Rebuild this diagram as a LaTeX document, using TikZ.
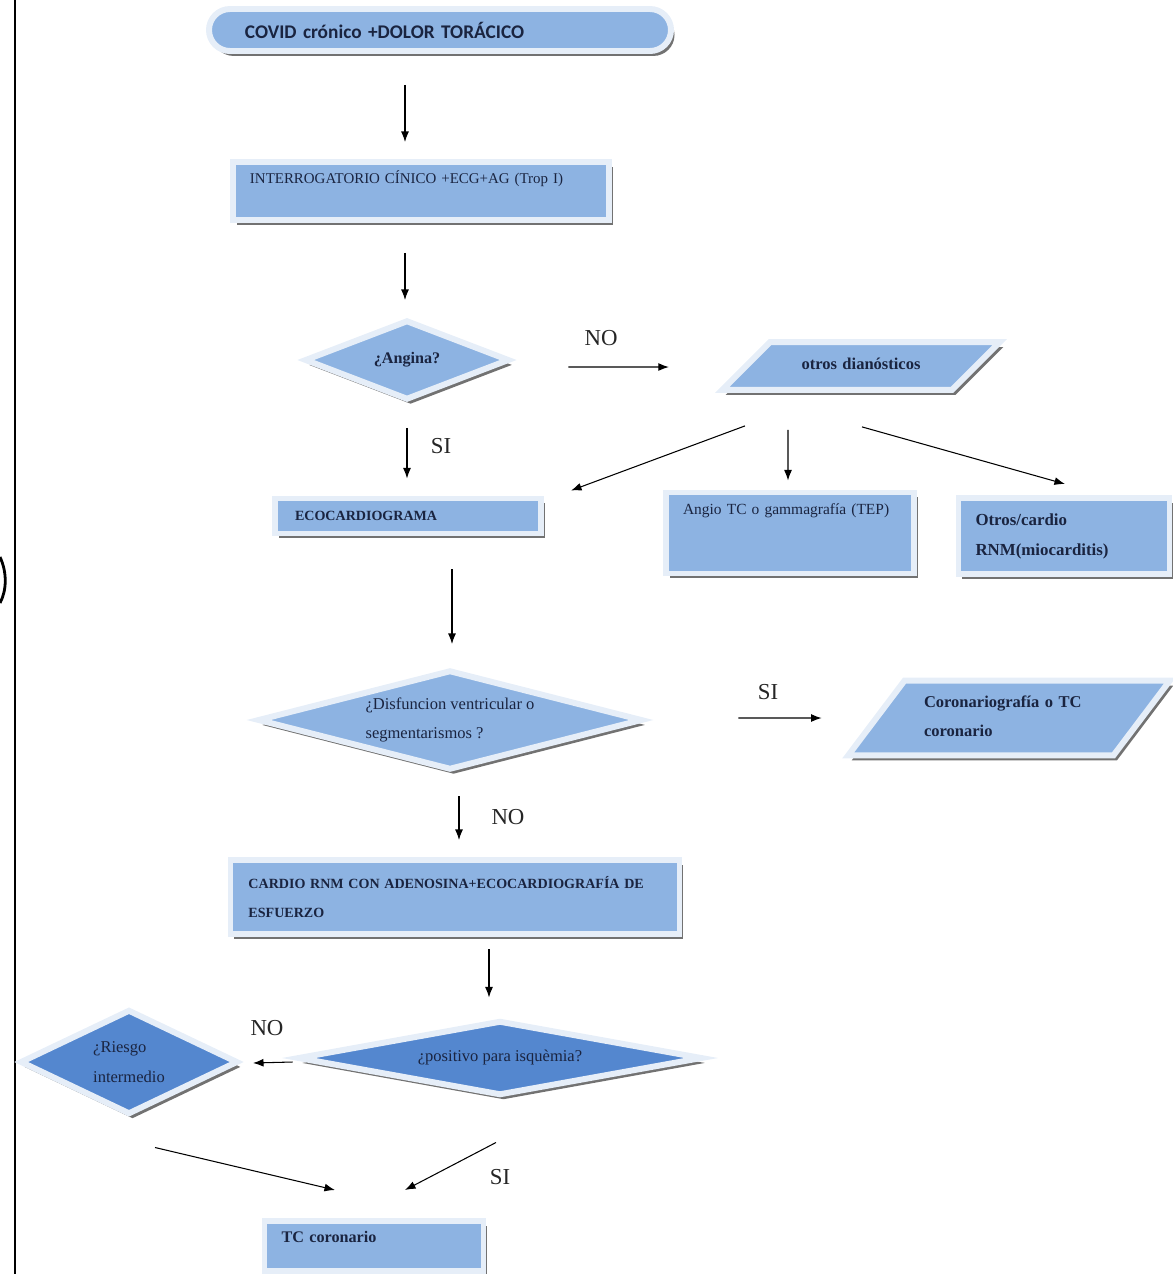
\documentclass[tikz,border=0pt]{standalone}
\usepackage{fontspec}
\setmainfont{Liberation Serif}
\newfontfamily\calibri{Carlito}
\usepackage{tikz}
\usetikzlibrary{shapes.geometric,shadows,calc,arrows.meta}
\definecolor{azul}{HTML}{8DB3E2}
\definecolor{azulosc}{HTML}{5487CF}
\definecolor{banda}{HTML}{E6EEF8}
\definecolor{tinta}{HTML}{1A2440}
\tikzstyle{sombra} = [drop shadow={shadow xshift=2pt, shadow yshift=-2.8pt, fill=gray!70!black, opacity=.85}]
\tikzstyle{inicio} = [rectangle, rounded corners=4.2mm, draw=banda, line width=3.4pt, fill=azul, sombra, text=tinta, align=left, inner ysep=0pt, font=\calibri\bfseries\fontsize{11}{12}\selectfont]
\tikzstyle{caja} = [rectangle, draw=banda, line width=3.4pt, fill=azul, sombra, text=tinta, align=left, inner ysep=0pt, font=\fontsize{8}{17}\selectfont\bfseries]
\tikzstyle{rombo} = [diamond, draw=banda, line width=3.4pt, fill=azul, sombra, text=tinta, align=left, inner sep=0pt, font=\fontsize{9.4}{17}\selectfont]
\tikzstyle{paralelo} = [trapezium, draw=banda, line width=3.4pt, fill=azul, sombra, text=tinta, align=left, inner xsep=0pt, text height=7pt, font=\fontsize{9.4}{17}\selectfont\bfseries]
\tikzstyle{flecha} = [-{Latex[length=6pt,width=4.5pt]}, line width=0.6pt]
\tikzstyle{etiqueta} = [font=\fontsize{13}{15}\selectfont, text=black!85]

\begin{document}
\begin{tikzpicture}[x=0.2mm, y=-0.2mm]

        \useasboundingbox (0,0) rectangle (1173,1274);
        \draw[line width=1.1pt] (15,0) -- (15,1274);
        \draw[line width=1.6pt] (0,557) .. controls (7,572) and (7,590) .. (0,603);

        \node (inicio) [inicio, text width=78mm, inner xsep=7.2mm, minimum height=8.4mm] at (440,30) {COVID crónico +DOLOR TORÁCICO};
        \node (interrog) [caja, font=\fontsize{8.5}{17}\selectfont, text width=68.4mm, inner xsep=3.4mm, minimum height=11.6mm, text height=6pt, text depth=15pt] at (421,191) {INTERROGATORIO CÍNICO +ECG+AG (Trop I)};

        \node (angina) [rombo, aspect=2.56, font=\fontsize{9.2}{17}\selectfont\bfseries, minimum width=41mm, minimum height=16mm] at (407,360) {¿Angina?};
        \node (otrosd) [paralelo, trapezium left angle=45, trapezium right angle=135, align=center, text width=36.4mm, text depth=2.5pt, inner ysep=8.85pt] at (861,366) {otros dianósticos};

        \node (eco) [caja, text width=45.2mm, inner xsep=4mm, minimum height=7mm] at (408,516) {ECOCARDIOGRAMA};
        \node (angio) [caja, font=\fontsize{8.8}{17}\selectfont, text width=42.8mm, inner xsep=3.4mm, minimum height=16.2mm, text height=6pt, text depth=27pt] at (790,533) {Angio TC o gammagrafía (TEP)};
        \node (otrosc) [caja, font=\fontsize{9.6}{17}\selectfont\bfseries, text width=35.4mm, inner xsep=3.4mm, minimum height=15.2mm] at (1064,536) {Otros/cardio\\RNM(miocarditis)};

        \node (disf) [rombo, aspect=3.85, minimum width=77mm, minimum height=20mm] at (450,720) {¿Disfuncion ventricular o\\segmentarismos ?};
        \node (coron) [paralelo, trapezium left angle=53, trapezium right angle=127, text width=34mm, inner xsep=3.9mm, text depth=19.5pt, inner ysep=8pt] at (1009,718) {Coronariografía o TC\\coronario};

        \node (cardio) [caja, text width=82.6mm, inner xsep=3.6mm, minimum height=14.8mm] at (455,897) {CARDIO RNM CON ADENOSINA+ECOCARDIOGRAFÍA DE\\ESFUERZO};

        \node (posit) [rombo, aspect=5.4, fill=azulosc, minimum width=81mm, minimum height=15mm] at (500,1058) {¿positivo para isquèmia?};
        \node (riesgo) [rombo, aspect=2.08, fill=azulosc, minimum width=43.6mm, minimum height=21mm] at (129,1062) {¿Riesgo\\intermedio};

        \node (tc) [caja, font=\fontsize{9.2}{17}\selectfont\bfseries, text width=37mm, inner xsep=3.4mm, minimum height=10mm, text height=6pt, text depth=10.5pt] at (374,1246) {TC coronario};

        % flechas
        \draw[flecha] ($(inicio.south)+(-35,31)$) -- ($(interrog.north)+(-16,-17)$);
        \draw[flecha] ($(interrog.south)+(-16,30)$) -- ($(angina.north)+(-2,-17)$);
        \draw[flecha] ($(angina.east)+(56,7)$) -- ($(otrosd.west)+(-73,1)$);
        \draw[flecha] ($(angina.south)+(0,25)$) -- ($(eco.north)+(-1,-17)$);
        \draw[flecha] ($(otrosd.south)+(-116,33)$) -- ($(eco.north east)+(27,-5)$);
        \draw[flecha] ($(otrosd.south)+(-73,37)$) -- ($(angio.north)+(-2,-9)$);
        \draw[flecha] ($(otrosd.south)+(1,34)$) -- ($(otrosc.north)+(1,-11)$);
        \draw[flecha] ($(eco.south)+(44,33)$) -- ($(disf.north)+(2,-23)$);
        \draw[flecha] ($(disf.east)+(93,-2)$) -- ($(coron.west)+(-51,0)$);
        \draw[flecha] ($(disf.south)+(9,23)$) -- ($(cardio.north)+(4,-17)$);
        \draw[flecha] ($(cardio.south)+(34,12)$) -- ($(posit.north)+(-11,-20)$);
        \draw[flecha] ($(posit.west)+(-2,4)$) -- ($(riesgo.east)+(12,1)$);
        \draw[flecha] ($(riesgo.south)+(26,30)$) -- ($(tc.north)+(-39,-28)$);
        \draw[flecha] ($(posit.south)+(-4,44)$) -- ($(tc.north)+(31,-28)$);

        \node (no1) [etiqueta] at (601,338) {NO};
        \node (si1) [etiqueta] at (441,446) {SI};
        \node (si2) [etiqueta] at (768,692) {SI};
        \node (no2) [etiqueta] at (508,817) {NO};
        \node (no3) [etiqueta] at (267,1028) {NO};
        \node (si3) [etiqueta] at (500,1177) {SI};

\end{tikzpicture}
\end{document}
